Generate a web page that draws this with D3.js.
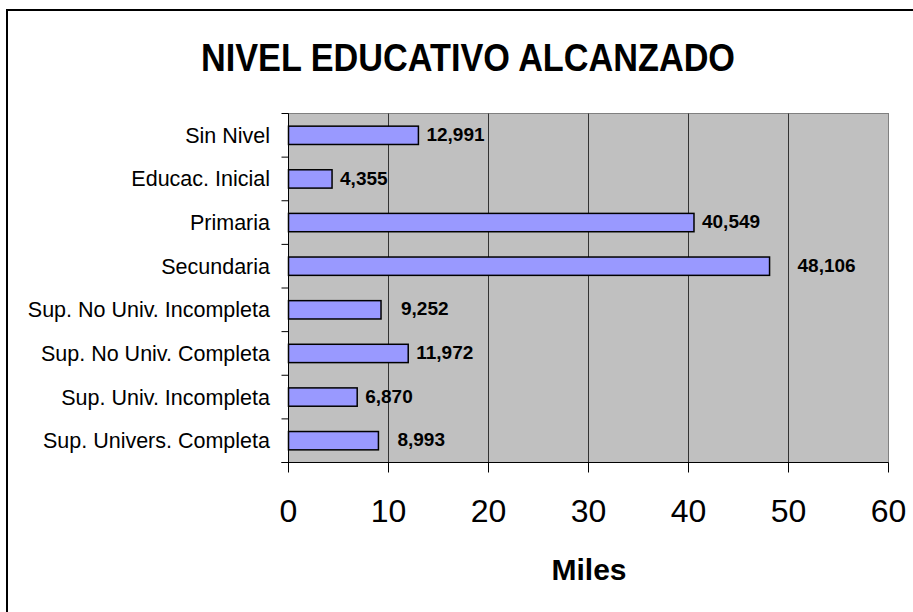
<!DOCTYPE html>
<html><head><meta charset="utf-8">
<script src="https://cdn.jsdelivr.net/npm/d3@7"></script>
<style>
html,body{margin:0;padding:0;background:#fff;}
svg{display:block;font-family:Arial,"Liberation Sans",sans-serif;}
</style></head>
<body>
<svg id="c" width="913" height="612"></svg>
<script>
const categories = ["Sin Nivel","Educac. Inicial","Primaria","Secundaria","Sup. No Univ. Incompleta","Sup. No Univ. Completa","Sup. Univ. Incompleta","Sup. Univers. Completa"];
const values = [12.991, 4.355, 40.549, 48.106, 9.252, 11.972, 6.870, 8.993];
const valueLabels = ["12,991","4,355","40,549","48,106","9,252","11,972","6,870","8,993"];
const xTicks = [0,10,20,30,40,50,60];
const title = "NIVEL EDUCATIVO ALCANZADO";
const xTitle = "Miles";

const svg = d3.select("#c");
const L = 288.5, R = 888.5, T = 113.5, B = 462.5;

// outer frame (clipped at right/bottom)
svg.append("rect").attr("x",7).attr("y",10).attr("width",1000).attr("height",700)
  .attr("fill","#fff").attr("stroke","#000").attr("stroke-width",2);

const x = d3.scaleLinear().domain([0,60]).range([L,R]);
const y = d3.scaleBand().domain(categories).range([T,B]).padding(0);

// plot background
svg.append("rect").attr("x",L).attr("y",T).attr("width",R-L).attr("height",B-T)
  .attr("fill","#c0c0c0").attr("stroke","#808080").attr("stroke-width",1);

// gridlines
svg.append("g").selectAll("line").data(xTicks.filter(d=>d>0 && d<60)).join("line")
  .attr("x1",d=>x(d)).attr("x2",d=>x(d)).attr("y1",T).attr("y2",B)
  .attr("stroke","#333").attr("stroke-width",1);

// bars
const bh = y.bandwidth()*0.42;
svg.append("g").selectAll("rect").data(categories).join("rect")
  .attr("x",x(0)).attr("y",d=>y(d)+y.bandwidth()/2-bh/2)
  .attr("width",(d,i)=>x(values[i])-x(0)).attr("height",bh)
  .attr("fill","#9999ff").attr("stroke","#000").attr("stroke-width",1.5);

// value labels
const nudge = {"Secundaria":20,"Sup. No Univ. Incompleta":12,"Sup. Univers. Completa":11};
svg.append("g").selectAll("text").data(categories).join("text")
  .attr("x",(d,i)=>x(values[i])+8+(nudge[d]||0))
  .attr("y",d=>y(d)+y.bandwidth()/2-1)
  .attr("dy","0.35em")
  .attr("font-size",19).attr("font-weight","bold").attr("fill","#000")
  .text((d,i)=>valueLabels[i]);

// y axis
const ya = svg.append("g");
ya.append("line").attr("x1",L).attr("x2",L).attr("y1",T).attr("y2",B).attr("stroke","#000").attr("stroke-width",1);
const bounds = categories.map(c=>y(c)).concat([B]);
ya.selectAll("line.t").data(bounds).join("line").attr("class","t")
  .attr("x1",L-7).attr("x2",L).attr("y1",d=>d).attr("y2",d=>d).attr("stroke","#000");
ya.selectAll("text").data(categories).join("text")
  .attr("x",270).attr("y",d=>y(d)+y.bandwidth()/2).attr("dy","0.35em")
  .attr("text-anchor","end").attr("font-size",21.5).attr("fill","#000").text(d=>d);

// x axis
const xa = svg.append("g");
xa.append("line").attr("x1",L-7).attr("x2",R).attr("y1",B).attr("y2",B).attr("stroke","#000");
xa.selectAll("line.t").data(xTicks).join("line").attr("class","t")
  .attr("x1",d=>x(d)).attr("x2",d=>x(d)).attr("y1",B).attr("y2",B+10).attr("stroke","#000");
xa.selectAll("text").data(xTicks).join("text")
  .attr("x",d=>x(d)).attr("y",522).attr("text-anchor","middle")
  .attr("font-size",32).attr("fill","#000").text(d=>d);

// x title
svg.append("text").attr("x",589).attr("y",580).attr("text-anchor","middle")
  .attr("font-size",30).attr("font-weight","bold").text(xTitle);

// title
svg.append("text").attr("x",468).attr("y",71).attr("text-anchor","middle")
  .attr("font-size",38).attr("font-weight","bold")
  .attr("textLength",534).attr("lengthAdjust","spacingAndGlyphs").text(title);
</script>
</body></html>
